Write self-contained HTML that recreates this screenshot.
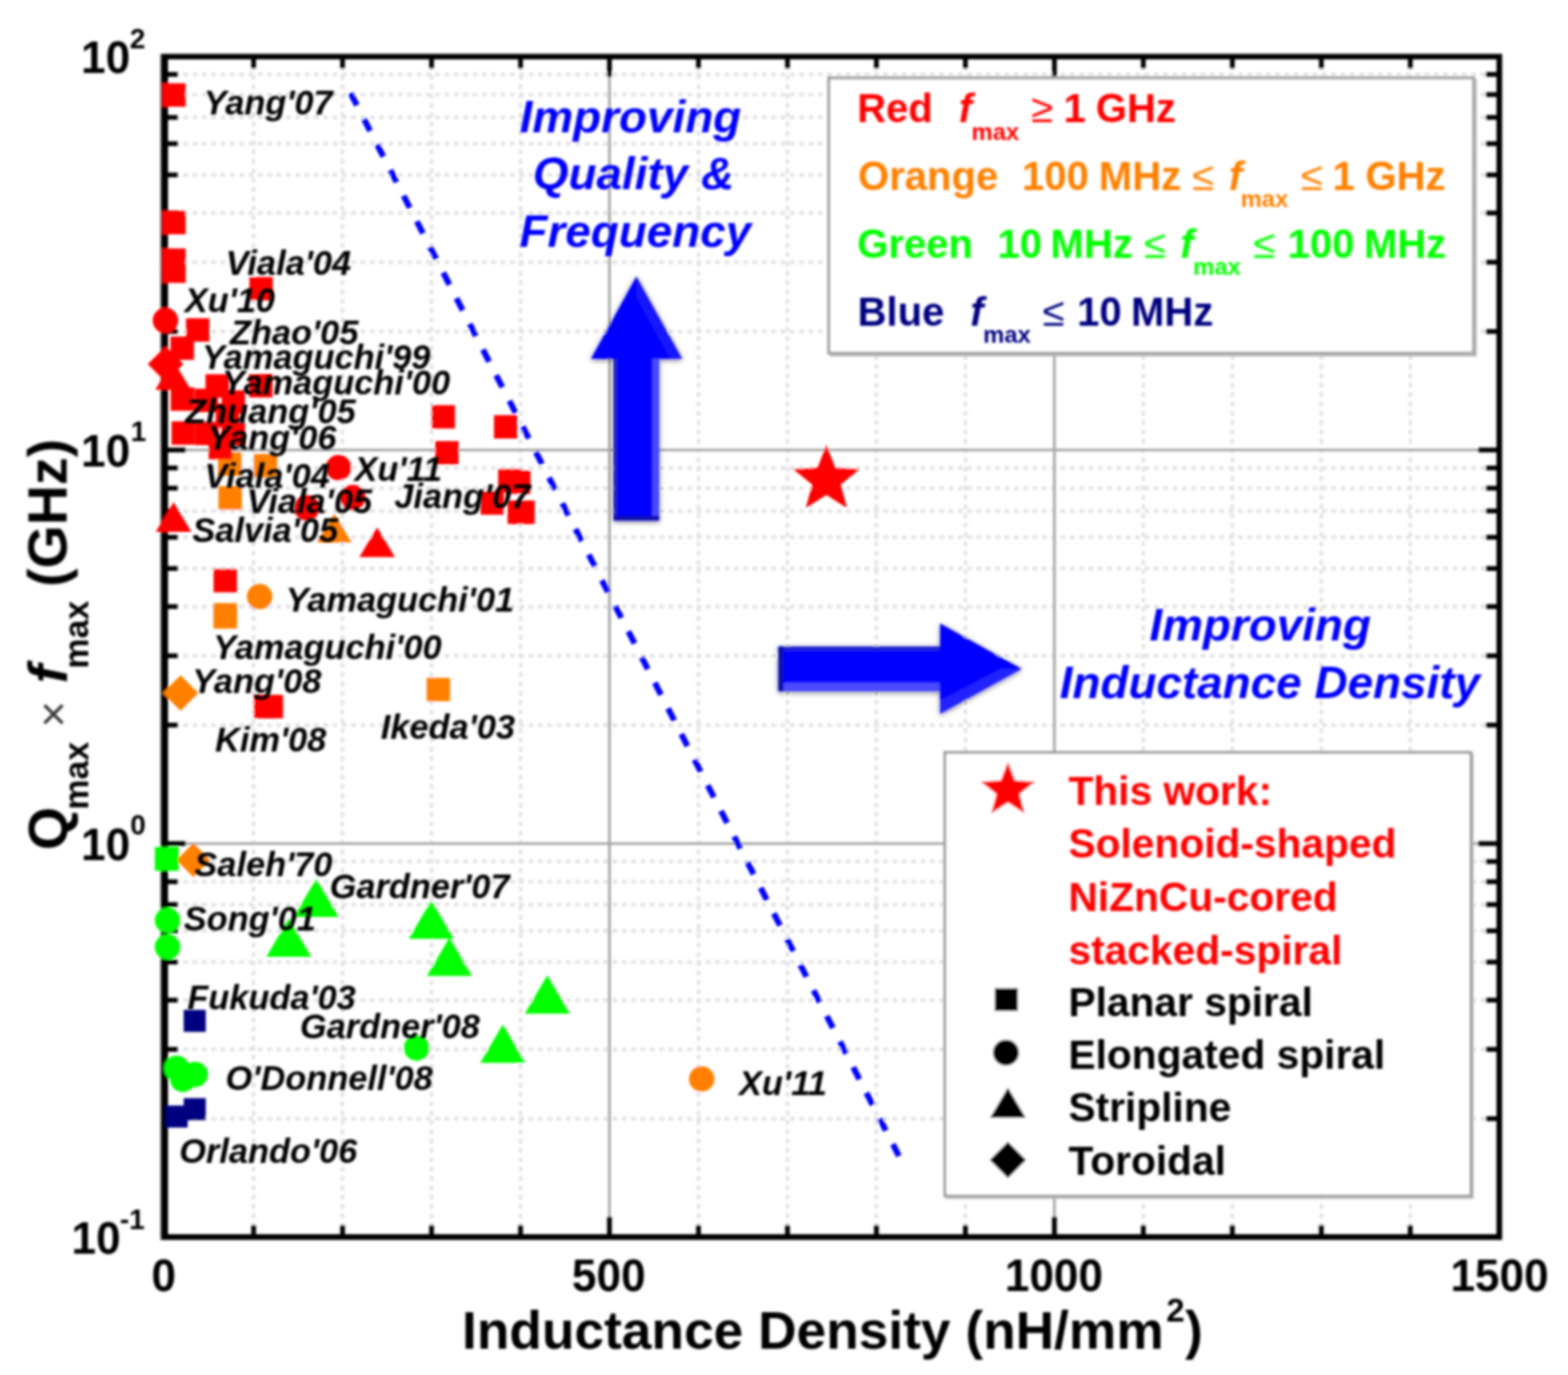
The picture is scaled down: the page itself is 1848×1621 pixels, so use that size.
<!DOCTYPE html>
<html lang="en"><head><meta charset="utf-8"><title>Inductance density chart</title>
<style>
html,body{margin:0;padding:0;background:#fff;}
body{width:1848px;height:1621px;overflow:hidden;}
svg{display:block;font-family:"Liberation Sans",Arial,Helvetica,sans-serif;}
text{white-space:pre;}
</style></head><body>
<svg width="1848" height="1621" viewBox="0 0 1848 1621">
<defs>
<filter id="bl" x="-2%" y="-2%" width="104%" height="104%"><feGaussianBlur stdDeviation="1.4"/></filter>
<filter id="sh" x="-20%" y="-20%" width="140%" height="140%"><feDropShadow dx="0" dy="1.5" stdDeviation="3" flood-color="#000" flood-opacity="0.55"/></filter>
</defs>
<rect width="1848" height="1621" fill="#fff"/>
<g filter="url(#bl)">
<g stroke="#e2e2e2" stroke-width="4.2" stroke-dasharray="5.5 5.5" fill="none"><line x1="298.9" y1="66.5" x2="298.9" y2="1458.5"/><line x1="403.7" y1="66.5" x2="403.7" y2="1458.5"/><line x1="508.6" y1="66.5" x2="508.6" y2="1458.5"/><line x1="613.5" y1="66.5" x2="613.5" y2="1458.5"/><line x1="823.2" y1="66.5" x2="823.2" y2="1458.5"/><line x1="928.1" y1="66.5" x2="928.1" y2="1458.5"/><line x1="1032.9" y1="66.5" x2="1032.9" y2="1458.5"/><line x1="1137.8" y1="66.5" x2="1137.8" y2="1458.5"/><line x1="1347.5" y1="66.5" x2="1347.5" y2="1458.5"/><line x1="1452.4" y1="66.5" x2="1452.4" y2="1458.5"/><line x1="1557.3" y1="66.5" x2="1557.3" y2="1458.5"/><line x1="1662.1" y1="66.5" x2="1662.1" y2="1458.5"/><line x1="194.0" y1="1318.8" x2="1767.0" y2="1318.8"/><line x1="194.0" y1="1237.1" x2="1767.0" y2="1237.1"/><line x1="194.0" y1="1179.1" x2="1767.0" y2="1179.1"/><line x1="194.0" y1="1134.2" x2="1767.0" y2="1134.2"/><line x1="194.0" y1="1097.4" x2="1767.0" y2="1097.4"/><line x1="194.0" y1="1066.4" x2="1767.0" y2="1066.4"/><line x1="194.0" y1="1039.5" x2="1767.0" y2="1039.5"/><line x1="194.0" y1="1015.7" x2="1767.0" y2="1015.7"/><line x1="194.0" y1="854.8" x2="1767.0" y2="854.8"/><line x1="194.0" y1="773.1" x2="1767.0" y2="773.1"/><line x1="194.0" y1="715.1" x2="1767.0" y2="715.1"/><line x1="194.0" y1="670.2" x2="1767.0" y2="670.2"/><line x1="194.0" y1="633.4" x2="1767.0" y2="633.4"/><line x1="194.0" y1="602.4" x2="1767.0" y2="602.4"/><line x1="194.0" y1="575.5" x2="1767.0" y2="575.5"/><line x1="194.0" y1="551.7" x2="1767.0" y2="551.7"/><line x1="194.0" y1="390.8" x2="1767.0" y2="390.8"/><line x1="194.0" y1="309.1" x2="1767.0" y2="309.1"/><line x1="194.0" y1="251.1" x2="1767.0" y2="251.1"/><line x1="194.0" y1="206.2" x2="1767.0" y2="206.2"/><line x1="194.0" y1="169.4" x2="1767.0" y2="169.4"/><line x1="194.0" y1="138.4" x2="1767.0" y2="138.4"/><line x1="194.0" y1="111.5" x2="1767.0" y2="111.5"/><line x1="194.0" y1="87.7" x2="1767.0" y2="87.7"/></g><g stroke="#a6a6a6" stroke-width="3.2" fill="none"><line x1="718.3" y1="66.5" x2="718.3" y2="1458.5"/><line x1="1242.7" y1="66.5" x2="1242.7" y2="1458.5"/><line x1="194.0" y1="994.5" x2="1767.0" y2="994.5"/><line x1="194.0" y1="530.5" x2="1767.0" y2="530.5"/></g>
<g stroke="#000" stroke-width="5.6" fill="none"><line x1="298.9" y1="66.5" x2="298.9" y2="81.0"/><line x1="298.9" y1="1458.5" x2="298.9" y2="1444.0"/><line x1="403.7" y1="66.5" x2="403.7" y2="81.0"/><line x1="403.7" y1="1458.5" x2="403.7" y2="1444.0"/><line x1="508.6" y1="66.5" x2="508.6" y2="81.0"/><line x1="508.6" y1="1458.5" x2="508.6" y2="1444.0"/><line x1="613.5" y1="66.5" x2="613.5" y2="81.0"/><line x1="613.5" y1="1458.5" x2="613.5" y2="1444.0"/><line x1="718.3" y1="66.5" x2="718.3" y2="90.5"/><line x1="718.3" y1="1458.5" x2="718.3" y2="1434.5"/><line x1="823.2" y1="66.5" x2="823.2" y2="81.0"/><line x1="823.2" y1="1458.5" x2="823.2" y2="1444.0"/><line x1="928.1" y1="66.5" x2="928.1" y2="81.0"/><line x1="928.1" y1="1458.5" x2="928.1" y2="1444.0"/><line x1="1032.9" y1="66.5" x2="1032.9" y2="81.0"/><line x1="1032.9" y1="1458.5" x2="1032.9" y2="1444.0"/><line x1="1137.8" y1="66.5" x2="1137.8" y2="81.0"/><line x1="1137.8" y1="1458.5" x2="1137.8" y2="1444.0"/><line x1="1242.7" y1="66.5" x2="1242.7" y2="90.5"/><line x1="1242.7" y1="1458.5" x2="1242.7" y2="1434.5"/><line x1="1347.5" y1="66.5" x2="1347.5" y2="81.0"/><line x1="1347.5" y1="1458.5" x2="1347.5" y2="1444.0"/><line x1="1452.4" y1="66.5" x2="1452.4" y2="81.0"/><line x1="1452.4" y1="1458.5" x2="1452.4" y2="1444.0"/><line x1="1557.3" y1="66.5" x2="1557.3" y2="81.0"/><line x1="1557.3" y1="1458.5" x2="1557.3" y2="1444.0"/><line x1="1662.1" y1="66.5" x2="1662.1" y2="81.0"/><line x1="1662.1" y1="1458.5" x2="1662.1" y2="1444.0"/><line x1="194.0" y1="1318.8" x2="210.0" y2="1318.8"/><line x1="1767.0" y1="1318.8" x2="1751.0" y2="1318.8"/><line x1="194.0" y1="1237.1" x2="210.0" y2="1237.1"/><line x1="1767.0" y1="1237.1" x2="1751.0" y2="1237.1"/><line x1="194.0" y1="1179.1" x2="210.0" y2="1179.1"/><line x1="1767.0" y1="1179.1" x2="1751.0" y2="1179.1"/><line x1="194.0" y1="1134.2" x2="210.0" y2="1134.2"/><line x1="1767.0" y1="1134.2" x2="1751.0" y2="1134.2"/><line x1="194.0" y1="1097.4" x2="210.0" y2="1097.4"/><line x1="1767.0" y1="1097.4" x2="1751.0" y2="1097.4"/><line x1="194.0" y1="1066.4" x2="210.0" y2="1066.4"/><line x1="1767.0" y1="1066.4" x2="1751.0" y2="1066.4"/><line x1="194.0" y1="1039.5" x2="210.0" y2="1039.5"/><line x1="1767.0" y1="1039.5" x2="1751.0" y2="1039.5"/><line x1="194.0" y1="1015.7" x2="210.0" y2="1015.7"/><line x1="1767.0" y1="1015.7" x2="1751.0" y2="1015.7"/><line x1="194.0" y1="994.5" x2="219.0" y2="994.5"/><line x1="1767.0" y1="994.5" x2="1742.0" y2="994.5"/><line x1="194.0" y1="854.8" x2="210.0" y2="854.8"/><line x1="1767.0" y1="854.8" x2="1751.0" y2="854.8"/><line x1="194.0" y1="773.1" x2="210.0" y2="773.1"/><line x1="1767.0" y1="773.1" x2="1751.0" y2="773.1"/><line x1="194.0" y1="715.1" x2="210.0" y2="715.1"/><line x1="1767.0" y1="715.1" x2="1751.0" y2="715.1"/><line x1="194.0" y1="670.2" x2="210.0" y2="670.2"/><line x1="1767.0" y1="670.2" x2="1751.0" y2="670.2"/><line x1="194.0" y1="633.4" x2="210.0" y2="633.4"/><line x1="1767.0" y1="633.4" x2="1751.0" y2="633.4"/><line x1="194.0" y1="602.4" x2="210.0" y2="602.4"/><line x1="1767.0" y1="602.4" x2="1751.0" y2="602.4"/><line x1="194.0" y1="575.5" x2="210.0" y2="575.5"/><line x1="1767.0" y1="575.5" x2="1751.0" y2="575.5"/><line x1="194.0" y1="551.7" x2="210.0" y2="551.7"/><line x1="1767.0" y1="551.7" x2="1751.0" y2="551.7"/><line x1="194.0" y1="530.5" x2="219.0" y2="530.5"/><line x1="1767.0" y1="530.5" x2="1742.0" y2="530.5"/><line x1="194.0" y1="390.8" x2="210.0" y2="390.8"/><line x1="1767.0" y1="390.8" x2="1751.0" y2="390.8"/><line x1="194.0" y1="309.1" x2="210.0" y2="309.1"/><line x1="1767.0" y1="309.1" x2="1751.0" y2="309.1"/><line x1="194.0" y1="251.1" x2="210.0" y2="251.1"/><line x1="1767.0" y1="251.1" x2="1751.0" y2="251.1"/><line x1="194.0" y1="206.2" x2="210.0" y2="206.2"/><line x1="1767.0" y1="206.2" x2="1751.0" y2="206.2"/><line x1="194.0" y1="169.4" x2="210.0" y2="169.4"/><line x1="1767.0" y1="169.4" x2="1751.0" y2="169.4"/><line x1="194.0" y1="138.4" x2="210.0" y2="138.4"/><line x1="1767.0" y1="138.4" x2="1751.0" y2="138.4"/><line x1="194.0" y1="111.5" x2="210.0" y2="111.5"/><line x1="1767.0" y1="111.5" x2="1751.0" y2="111.5"/><line x1="194.0" y1="87.7" x2="210.0" y2="87.7"/><line x1="1767.0" y1="87.7" x2="1751.0" y2="87.7"/></g><path fill-rule="evenodd" fill="#000" d="M190.2,63.4H1770.4V1461.8H190.2Z M198,69.9V1455.1H1763.7V69.9Z"/><rect x="188.6" y="63.4" width="2" height="1398.4" fill="#000" opacity="0.45"/>
<rect x="256.9" y="533.2" width="27.6" height="27.6" fill="#ff8000"/><rect x="299.2" y="535.2" width="27.6" height="27.6" fill="#ff8000"/><rect x="257.5" y="573.2" width="27.6" height="27.6" fill="#ff8000"/><rect x="251.7" y="711.0" width="27.6" height="27.6" fill="#ff8000"/><rect x="251.7" y="713.5" width="27.6" height="27.6" fill="#ff8000"/><rect x="502.8" y="799.1" width="27.6" height="27.6" fill="#ff8000"/><circle cx="306.0" cy="703.3" r="15" fill="#ff8000"/><circle cx="827.0" cy="1272.0" r="15" fill="#ff8000"/><polygon points="394.0,605.5 373.5,639.5 414.5,639.5" fill="#ff8000"/><polygon points="212.8,796.0 233.8,817.0 212.8,838.0 191.8,817.0" fill="#ff8000"/><polygon points="227.8,994.0 247.8,1014.0 227.8,1034.0 207.8,1014.0" fill="#ff8000"/><rect x="191.2" y="98.2" width="27.6" height="27.6" fill="#ff0000"/><rect x="191.2" y="248.6" width="27.6" height="27.6" fill="#ff0000"/><rect x="191.2" y="292.9" width="27.6" height="27.6" fill="#ff0000"/><rect x="191.2" y="305.9" width="27.6" height="27.6" fill="#ff0000"/><rect x="293.9" y="326.5" width="27.6" height="27.6" fill="#ff0000"/><rect x="219.2" y="375.2" width="27.6" height="27.6" fill="#ff0000"/><rect x="201.0" y="396.7" width="27.6" height="27.6" fill="#ff0000"/><rect x="242.2" y="441.2" width="27.6" height="27.6" fill="#ff0000"/><rect x="293.6" y="441.0" width="27.6" height="27.6" fill="#ff0000"/><rect x="201.2" y="456.7" width="27.6" height="27.6" fill="#ff0000"/><rect x="229.2" y="458.2" width="27.6" height="27.6" fill="#ff0000"/><rect x="261.2" y="460.2" width="27.6" height="27.6" fill="#ff0000"/><rect x="261.2" y="498.0" width="27.6" height="27.6" fill="#ff0000"/><rect x="202.2" y="496.7" width="27.6" height="27.6" fill="#ff0000"/><rect x="229.9" y="497.2" width="27.6" height="27.6" fill="#ff0000"/><rect x="245.9" y="513.8" width="27.6" height="27.6" fill="#ff0000"/><rect x="254.2" y="476.2" width="27.6" height="27.6" fill="#ff0000"/><rect x="299.2" y="819.2" width="27.6" height="27.6" fill="#ff0000"/><rect x="306.0" y="819.2" width="27.6" height="27.6" fill="#ff0000"/><rect x="508.7" y="477.6" width="27.6" height="27.6" fill="#ff0000"/><rect x="582.2" y="489.4" width="27.6" height="27.6" fill="#ff0000"/><rect x="512.9" y="520.0" width="27.6" height="27.6" fill="#ff0000"/><rect x="587.1" y="552.8" width="27.6" height="27.6" fill="#ff0000"/><rect x="597.6" y="554.6" width="27.6" height="27.6" fill="#ff0000"/><rect x="566.4" y="579.2" width="27.6" height="27.6" fill="#ff0000"/><rect x="598.2" y="590.1" width="27.6" height="27.6" fill="#ff0000"/><rect x="602.7" y="590.1" width="27.6" height="27.6" fill="#ff0000"/><rect x="251.7" y="670.7" width="27.6" height="27.6" fill="#ff0000"/><circle cx="195.0" cy="377.8" r="15" fill="#ff0000"/><circle cx="399.0" cy="551.3" r="15" fill="#ff0000"/><circle cx="361.6" cy="598.8" r="15" fill="#ff0000"/><circle cx="415.7" cy="586.6" r="15" fill="#ff0000"/><polygon points="204.6,592.0 183.6,627.0 225.6,627.0" fill="#ff0000"/><polygon points="444.5,621.7 423.5,656.7 465.5,656.7" fill="#ff0000"/><polygon points="204.0,424.5 183.0,459.5 225.0,459.5" fill="#ff0000"/><polygon points="195.2,408.3 216.2,429.3 195.2,450.3 174.2,429.3" fill="#ff0000"/><polygon points="974.0,524.4 984.4,551.3 1013.3,552.9 990.9,571.2 998.3,599.1 974.0,583.5 949.7,599.1 957.1,571.2 934.7,552.9 963.6,551.3" fill="#ff0000"/><rect x="182.5" y="998.6" width="28" height="28" fill="#00ff00"/><circle cx="197.4" cy="1085.0" r="15" fill="#00ff00"/><circle cx="197.4" cy="1116.3" r="15" fill="#00ff00"/><circle cx="491.0" cy="1235.4" r="15" fill="#00ff00"/><circle cx="208.2" cy="1259.4" r="15" fill="#00ff00"/><circle cx="230.0" cy="1266.7" r="15" fill="#00ff00"/><circle cx="215.5" cy="1272.5" r="15" fill="#00ff00"/><polygon points="372.7,1035.9 346.2,1081.1 399.2,1081.1" fill="#00ff00"/><polygon points="340.4,1082.8 313.9,1128.0 366.9,1128.0" fill="#00ff00"/><polygon points="508.3,1061.6 481.8,1106.8 534.8,1106.8" fill="#00ff00"/><polygon points="529.7,1105.3 503.2,1150.5 556.2,1150.5" fill="#00ff00"/><polygon points="645.0,1149.8 618.5,1195.0 671.5,1195.0" fill="#00ff00"/><polygon points="592.5,1207.8 566.0,1253.0 619.0,1253.0" fill="#00ff00"/><rect x="216.5" y="1190.5" width="26" height="26" fill="#000080"/><rect x="216.5" y="1294.6" width="26" height="26" fill="#000080"/><rect x="195.2" y="1303.3" width="26" height="26" fill="#000080"/>
<line x1="413.3" y1="109.9" x2="1059.5" y2="1362.8" stroke="#0000ff" stroke-width="7" stroke-dasharray="15.98 18.02"/>
<g filter="url(#sh)">
<polygon points="750,326 804,423 777,423 777,613.5 723,613.5 723,423 696.5,423" fill="#0000fe"/>
<polygon points="917.5,762 1108,762 1108,735 1204,788.5 1108,841.5 1108,815 917.5,815" fill="#0000fe"/>
</g>
<rect x="769" y="423" width="8" height="190" fill="#4a4aff"/>
<rect x="723" y="423" width="5" height="190" fill="#1c1cc8"/>
<rect x="723" y="608" width="54" height="5.5" fill="#1010b0"/>
<polygon points="750,326 804,423 790,423 750,350" fill="#2a2aff" opacity="0.5"/>
<rect x="917.5" y="805" width="190" height="10" fill="#4a4aff"/>
<rect x="917.5" y="762" width="190" height="5" fill="#2020d0"/>
<rect x="917.5" y="762" width="6" height="53" fill="#1010b0"/>
<polygon points="1108,841.5 1204,788.5 1180,788.5 1108,826" fill="#3a3aff" opacity="0.6"/>

<rect x="976.7" y="91.8" width="760" height="324.6" fill="#fff" stroke="#a2a2a2" stroke-width="3.6"/><path d="M1739.3,93V419H978" fill="none" stroke="#b8b8b8" stroke-width="2.4"/><rect x="1113.6" y="887" width="620" height="523" fill="#fff" stroke="#9a9a9a" stroke-width="3.2"/><path d="M1735.8,888V1412.4H1115" fill="none" stroke="#bcbcbc" stroke-width="2"/><polygon points="1187.9,898.3 1196.4,920.1 1219.8,921.4 1201.6,936.3 1207.6,958.9 1187.9,946.2 1168.2,958.9 1174.2,936.3 1156.0,921.4 1179.4,920.1" fill="#ff0000"/><rect x="1172.5" y="1164.9" width="27" height="27" fill="#000"/><circle cx="1185.6" cy="1241.0" r="15.3" fill="#000"/><polygon points="1187.9,1282.3 1166.9,1317.8 1208.9,1317.8" fill="#000"/><polygon points="1187.9,1346.1 1209.3,1367.5 1187.9,1388.9 1166.5,1367.5" fill="#000"/>
</g>
<g filter="url(#bl)">
<text x="239.9" y="135.0" font-size="40.5" font-weight="bold" font-style="italic" fill="#000">Yang'07</text><text x="266.1" y="324.0" font-size="40.5" font-weight="bold" font-style="italic" fill="#000">Viala'04</text><text x="217.7" y="367.5" font-size="40.5" font-weight="bold" font-style="italic" fill="#000">Xu'10</text><text x="271.0" y="406.0" font-size="40.5" font-weight="bold" font-style="italic" fill="#000">Zhao'05</text><text x="238.1" y="435.0" font-size="40.5" font-weight="bold" font-style="italic" fill="#000">Yamaguchi'99</text><text x="261.4" y="465.3" font-size="40.5" font-weight="bold" font-style="italic" fill="#000">Yamaguchi'00</text><text x="218.3" y="499.0" font-size="40.5" font-weight="bold" font-style="italic" fill="#000">Zhuang'05</text><text x="244.4" y="530.3" font-size="40.5" font-weight="bold" font-style="italic" fill="#000">Yang'06</text><text x="241.0" y="575.4" font-size="40.5" font-weight="bold" font-style="italic" fill="#000">Viala'04</text><text x="417.7" y="567.3" font-size="40.5" font-weight="bold" font-style="italic" fill="#000">Xu'11</text><text x="290.8" y="605.0" font-size="40.5" font-weight="bold" font-style="italic" fill="#000">Viala'05</text><text x="464.7" y="598.8" font-size="40.5" font-weight="bold" font-style="italic" fill="#000">Jiang'07</text><text x="226.7" y="639.0" font-size="40.5" font-weight="bold" font-style="italic" fill="#000">Salvia'05</text><text x="336.7" y="720.5" font-size="40.5" font-weight="bold" font-style="italic" fill="#000">Yamaguchi'01</text><text x="251.3" y="777.3" font-size="40.5" font-weight="bold" font-style="italic" fill="#000">Yamaguchi'00</text><text x="226.6" y="816.6" font-size="40.5" font-weight="bold" font-style="italic" fill="#000">Yang'08</text><text x="253.4" y="885.6" font-size="40.5" font-weight="bold" font-style="italic" fill="#000">Kim'08</text><text x="448.8" y="870.7" font-size="40.5" font-weight="bold" font-style="italic" fill="#000">Ikeda'03</text><text x="229.1" y="1032.6" font-size="40.5" font-weight="bold" font-style="italic" fill="#000">Saleh'70</text><text x="388.4" y="1058.9" font-size="40.5" font-weight="bold" font-style="italic" fill="#000">Gardner'07</text><text x="216.4" y="1096.9" font-size="40.5" font-weight="bold" font-style="italic" fill="#000">Song'01</text><text x="220.7" y="1189.5" font-size="40.5" font-weight="bold" font-style="italic" fill="#000">Fukuda'03</text><text x="353.4" y="1224.0" font-size="40.5" font-weight="bold" font-style="italic" fill="#000">Gardner'08</text><text x="265.8" y="1285.2" font-size="40.5" font-weight="bold" font-style="italic" fill="#000">O'Donnell'08</text><text x="211.2" y="1371.4" font-size="40.5" font-weight="bold" font-style="italic" fill="#000">Orlando'06</text><text x="871.0" y="1290.5" font-size="40.5" font-weight="bold" font-style="italic" fill="#000">Xu'11</text>
<text x="612.6" y="156.0" font-size="54" font-weight="bold" font-style="italic" fill="#0000ff">Improving</text><text x="628.1" y="223.2" font-size="54" font-weight="bold" font-style="italic" fill="#0000ff">Quality &amp;</text><text x="612.3" y="291.4" font-size="54" font-weight="bold" font-style="italic" fill="#0000ff">Frequency</text><text x="1354.7" y="755.0" font-size="54" font-weight="bold" font-style="italic" fill="#0000ff">Improving</text><text x="1249.1" y="822.5" font-size="54" font-weight="bold" font-style="italic" fill="#0000ff">Inductance Density</text>
<text x="1010.3" y="144.3" font-size="47.2" font-weight="bold" font-style="normal" fill="#ff0000">Red</text><text x="1129.9" y="144.3" font-size="47.2" font-weight="bold" font-style="italic" fill="#ff0000">f</text><text x="1145.1" y="164.5" font-size="28" font-weight="bold" font-style="normal" fill="#ff0000">max</text><text x="1215.5" y="144.3" font-size="47.2" font-weight="normal" font-style="normal" fill="#ff0000">≥</text><text x="1253.4" y="144.3" font-size="47.2" font-weight="bold" font-style="normal" fill="#ff0000">1</text><text x="1291.5" y="144.3" font-size="47.2" font-weight="bold" font-style="normal" fill="#ff0000">GHz</text><text x="1011.3" y="224.0" font-size="47.2" font-weight="bold" font-style="normal" fill="#ff8000">Orange</text><text x="1204.5" y="224.0" font-size="47.2" font-weight="bold" font-style="normal" fill="#ff8000">100</text><text x="1295.1" y="224.0" font-size="47.2" font-weight="bold" font-style="normal" fill="#ff8000">MHz</text><text x="1405.2" y="224.0" font-size="47.2" font-weight="normal" font-style="normal" fill="#ff8000">≤</text><text x="1448.3" y="224.0" font-size="47.2" font-weight="bold" font-style="italic" fill="#ff8000">f</text><text x="1462.2" y="244.2" font-size="28" font-weight="bold" font-style="normal" fill="#ff8000">max</text><text x="1533.2" y="224.0" font-size="47.2" font-weight="normal" font-style="normal" fill="#ff8000">≤</text><text x="1570.6" y="224.0" font-size="47.2" font-weight="bold" font-style="normal" fill="#ff8000">1</text><text x="1609.3" y="224.0" font-size="47.2" font-weight="bold" font-style="normal" fill="#ff8000">GHz</text><text x="1010.2" y="303.8" font-size="47.2" font-weight="bold" font-style="normal" fill="#00ff00">Green</text><text x="1175.5" y="303.8" font-size="47.2" font-weight="bold" font-style="normal" fill="#00ff00">10</text><text x="1238.1" y="303.8" font-size="47.2" font-weight="bold" font-style="normal" fill="#00ff00">MHz</text><text x="1348.6" y="303.8" font-size="47.2" font-weight="normal" font-style="normal" fill="#00ff00">≤</text><text x="1391.1" y="303.8" font-size="47.2" font-weight="bold" font-style="italic" fill="#00ff00">f</text><text x="1406.3" y="324.0" font-size="28" font-weight="bold" font-style="normal" fill="#00ff00">max</text><text x="1477.2" y="303.8" font-size="47.2" font-weight="normal" font-style="normal" fill="#00ff00">≤</text><text x="1517.5" y="303.8" font-size="47.2" font-weight="bold" font-style="normal" fill="#00ff00">100</text><text x="1607.4" y="303.8" font-size="47.2" font-weight="bold" font-style="normal" fill="#00ff00">MHz</text><text x="1010.7" y="383.6" font-size="47.2" font-weight="bold" font-style="normal" fill="#000080">Blue</text><text x="1143.6" y="383.6" font-size="47.2" font-weight="bold" font-style="italic" fill="#000080">f</text><text x="1158.8" y="403.8" font-size="28" font-weight="bold" font-style="normal" fill="#000080">max</text><text x="1229.0" y="383.6" font-size="47.2" font-weight="normal" font-style="normal" fill="#000080">≤</text><text x="1269.5" y="383.6" font-size="47.2" font-weight="bold" font-style="normal" fill="#000080">10</text><text x="1333.0" y="383.6" font-size="47.2" font-weight="bold" font-style="normal" fill="#000080">MHz</text><text x="1259.2" y="948.8" font-size="48" font-weight="bold" font-style="normal" fill="#ff0000">This work:</text><text x="1259.2" y="1011.1" font-size="48" font-weight="bold" font-style="normal" fill="#ff0000">Solenoid-shaped</text><text x="1259.2" y="1073.8" font-size="48" font-weight="bold" font-style="normal" fill="#ff0000">NiZnCu-cored</text><text x="1259.2" y="1136.6" font-size="48" font-weight="bold" font-style="normal" fill="#ff0000">stacked-spiral</text><text x="1259.2" y="1197.8" font-size="48" font-weight="bold" font-style="normal" fill="#000">Planar spiral</text><text x="1259.2" y="1259.5" font-size="48" font-weight="bold" font-style="normal" fill="#000">Elongated spiral</text><text x="1259.2" y="1322.2" font-size="48" font-weight="bold" font-style="normal" fill="#000">Stripline</text><text x="1259.2" y="1384.6" font-size="48" font-weight="bold" font-style="normal" fill="#000">Toroidal</text>
<text transform="translate(178.5,1521.9) scale(0.955,1)" font-size="54.5" font-weight="bold" font-style="normal" fill="#000">0</text><text transform="translate(674.1,1521.9) scale(0.955,1)" font-size="54.5" font-weight="bold" font-style="normal" fill="#000">500</text><text transform="translate(1184.2,1521.9) scale(0.955,1)" font-size="54.5" font-weight="bold" font-style="normal" fill="#000">1000</text><text transform="translate(1709.4,1521.9) scale(0.955,1)" font-size="54.5" font-weight="bold" font-style="normal" fill="#000">1500</text><text transform="translate(95.5,86.1) scale(0.955,1)" font-size="54.5" font-weight="bold" font-style="normal" fill="#000">10</text><text x="153.0" y="56.5" font-size="33" font-weight="bold" font-style="normal" fill="#000">2</text><text transform="translate(95.5,549.9) scale(0.955,1)" font-size="54.5" font-weight="bold" font-style="normal" fill="#000">10</text><text x="154.0" y="520.3" font-size="33" font-weight="bold" font-style="normal" fill="#000">1</text><text transform="translate(95.5,1013.9) scale(0.955,1)" font-size="54.5" font-weight="bold" font-style="normal" fill="#000">10</text><text x="153.6" y="984.3" font-size="33" font-weight="bold" font-style="normal" fill="#000">0</text><text transform="translate(84.2,1478.1) scale(0.955,1)" font-size="54.5" font-weight="bold" font-style="normal" fill="#000">10</text><text x="141.3" y="1448.5" font-size="33" font-weight="bold" font-style="normal" fill="#000">-1</text><text x="544.5" y="1590" font-size="62.8" font-weight="bold">Inductance Density (nH/mm<tspan font-size="39" dy="-32" dx="3">2</tspan><tspan dy="32" dx="0.5">)</tspan></text><text transform="translate(78.5,1002.3) rotate(-90)" font-size="65.5" font-weight="bold" font-style="normal" fill="#000">Q</text><text transform="translate(104.2,954.6) rotate(-90)" font-size="40" font-weight="bold" font-style="normal" fill="#000">max</text><text transform="translate(80.5,857.8) rotate(-90)" font-size="54" font-weight="normal" font-style="normal" fill="#3a3a3a">×</text><text transform="translate(78.5,805.4) rotate(-90)" font-size="65.5" font-weight="bold" font-style="italic" fill="#000">f</text><text transform="translate(104.2,788.2) rotate(-90)" font-size="40" font-weight="bold" font-style="normal" fill="#000">max</text><text transform="translate(78.5,691.9) rotate(-90)" font-size="65.5" font-weight="bold" font-style="normal" fill="#000">(GHz)</text>
</g>
</svg>
</body></html>
